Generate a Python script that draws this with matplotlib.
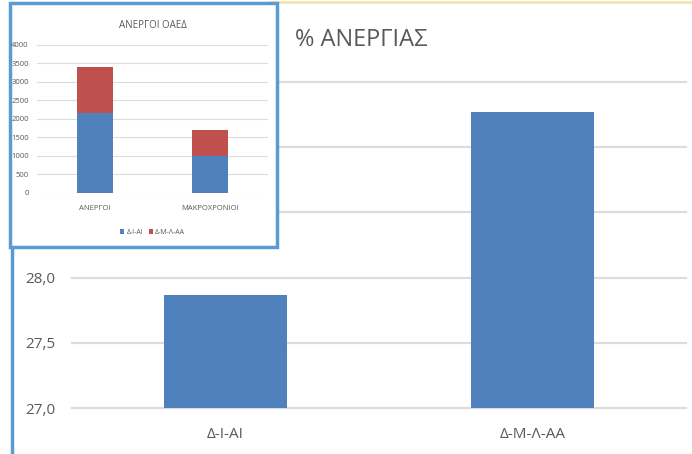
import matplotlib
matplotlib.use("Agg")
import matplotlib.pyplot as plt
from matplotlib.patches import Rectangle
from matplotlib.lines import Line2D

plt.rcParams['font.family'] = ['Open Sans', 'DejaVu Sans']

# main chart data
categories = ['Δ-Ι-ΑΙ', 'Δ-Μ-Λ-ΑΑ']
pct = [27.87, 29.27]
yticks = [27.0, 27.5, 28.0, 28.5, 29.0, 29.5]
ylabels = ['27,0', '27,5', '28,0', '', '', '']

# inset data
inset_cats = ['ΑΝΕΡΓΟΙ', 'ΜΑΚΡΟΧΡΟΝΙΟΙ']
dia = [2155, 1010]
dmla = [1238, 680]
inset_ticks = [0, 500, 1000, 1500, 2000, 2500, 3000, 3500, 4000]

blue = '#4F81BD'
red = '#C0504D'
grid = '#DCDCDC'
txt = '#595959'
frame = '#5B9BD5'

fig = plt.figure(figsize=(6.92, 4.54), dpi=100)

ax = fig.add_axes([0.104, 0.1013, 0.887, 0.7181])
ax.bar(range(len(categories)), pct, width=0.4, color=blue, zorder=3)
ax.set_ylim(27.0, 29.5)
ax.set_xlim(-0.5, 1.5)
ax.set_yticks(yticks)
ax.set_yticklabels(ylabels)
ax.set_xticks(range(len(categories)))
ax.set_xticklabels(categories)
ax.yaxis.grid(True, color=grid, linewidth=1.6, zorder=0)
for gl in ax.get_ygridlines():
    gl.set_clip_on(False)
for s in ax.spines.values():
    s.set_visible(False)
ax.tick_params(length=0, labelsize=11, colors=txt)
ax.tick_params(axis='y', pad=12)
ax.tick_params(axis='x', pad=14)
fig.text(0.426, 0.912, '% ΑΝΕΡΓΙΑΣ', fontsize=17, color=txt, va='center', ha='left')

# frame lines from the screenshot
fig.add_artist(Line2D([0.0175, 0.0175], [0.0, 0.46], color=frame, linewidth=2.5))
fig.add_artist(Line2D([0.39, 1.0], [0.995, 0.995], color='#F3E3B3', linewidth=2))

# inset box
fig.add_artist(Rectangle((0.0145, 0.456), 0.386, 0.537, facecolor='white',
                         edgecolor=frame, linewidth=2.5, zorder=5))
ia = fig.add_axes([0.0535, 0.575, 0.334, 0.326], zorder=6)
ia.patch.set_alpha(0)
x = range(len(inset_cats))
ia.bar(x, dia, width=0.31, color=blue, label='Δ-Ι-ΑΙ', zorder=3)
ia.bar(x, dmla, width=0.31, bottom=dia, color=red, label='Δ-Μ-Λ-ΑΑ', zorder=3)
ia.set_ylim(0, 4000)
ia.set_xlim(-0.5, 1.5)
ia.set_yticks(inset_ticks)
ia.set_xticks(list(x))
ia.set_xticklabels(inset_cats)
ia.yaxis.grid(True, color=grid, linewidth=0.8, zorder=0)
for s in ia.spines.values():
    s.set_visible(False)
ia.tick_params(length=0, labelsize=5.5, colors=txt)
ia.tick_params(axis='y', pad=6)
ia.tick_params(axis='x', pad=9)
ia.set_title('ΑΝΕΡΓΟΙ ΟΑΕΔ', fontsize=7, color=txt, pad=12)
ia.legend(loc='upper center', bbox_to_anchor=(0.5, -0.2), ncol=2, frameon=False,
          fontsize=5, handlelength=0.6, handleheight=0.6, handletextpad=0.3,
          columnspacing=0.8, labelcolor=txt)

fig.savefig('out.png', dpi=100)
